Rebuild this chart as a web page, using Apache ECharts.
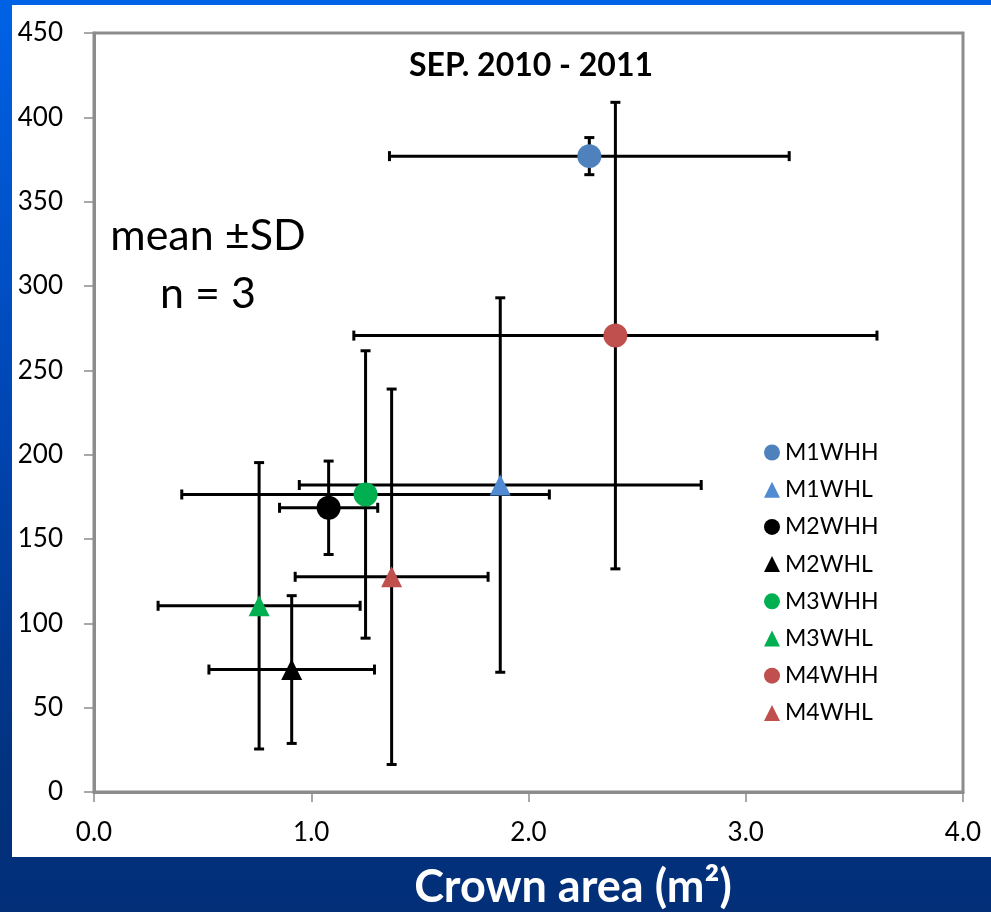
<!DOCTYPE html>
<html>
<head>
<meta charset="utf-8">
<script src="https://cdn.jsdelivr.net/npm/echarts@6/dist/echarts.min.js"></script>
<style>
html,body{margin:0;padding:0;background:#022F78;}
#chart{width:991px;height:912px;}
</style>
</head>
<body>
<div id="chart"></div>
<script>
// ---- data ----
var seriesNames = ['M1WHH','M1WHL','M2WHH','M2WHL','M3WHH','M3WHL','M4WHH','M4WHL'];
var crownArea   = [2.28, 1.87, 1.08, 0.91, 1.25, 0.76, 2.40, 1.37];
var yMean       = [377, 182, 168.5, 72.6, 176.4, 110.4, 270.6, 127.6];
var crownSD     = [0.92, 0.925, 0.226, 0.381, 0.846, 0.465, 1.204, 0.444];
var ySD         = [11, 111, 27.7, 43.8, 85.2, 84.9, 138.3, 111.3];
var xTicks      = [0, 1, 2, 3, 4];
var yTicks      = [0, 50, 100, 150, 200, 250, 300, 350, 400, 450];
var symbols     = ['circle','triangle','circle','triangle','circle','triangle','circle','triangle'];
var colors      = ['#4F81BD','#4F8AD2','#000000','#000000','#00B050','#00B050','#C0504D','#C0504D'];
var chartTitle  = 'SEP. 2010 - 2011';
var noteText    = 'mean ±SD\nn = 3';
var xAxisTitle  = 'Crown area (m²)';

var FONT = 'Lato, "Open Sans", sans-serif';
var chart = echarts.init(document.getElementById('chart'));

var scatterSeries = seriesNames.map(function (n, i) {
  return {
    name: n,
    type: 'scatter',
    symbol: symbols[i],
    symbolSize: symbols[i] === 'circle' ? 24 : [21, 21],
    itemStyle: { color: colors[i], opacity: 1 },
    z: 5,
    data: [[crownArea[i], yMean[i]]]
  };
});

var errData = seriesNames.map(function (n, i) {
  return [crownArea[i], yMean[i], crownSD[i], ySD[i]];
});

function renderErr(params, api) {
  var x = api.value(0), y = api.value(1), sx = api.value(2), sy = api.value(3);
  var c = api.coord([x, y]);
  var l = api.coord([x - sx, y]);
  var r = api.coord([x + sx, y]);
  var t = api.coord([x, y + sy]);
  var b = api.coord([x, y - sy]);
  var cap = 5;
  var st = { stroke: '#000', lineWidth: 3, lineCap: 'butt' };
  function ln(x1, y1, x2, y2) { return { type: 'line', shape: { x1: x1, y1: y1, x2: x2, y2: y2 }, style: st }; }
  return {
    type: 'group',
    children: [
      ln(l[0], c[1], r[0], c[1]),
      ln(l[0], c[1] - cap, l[0], c[1] + cap),
      ln(r[0], c[1] - cap, r[0], c[1] + cap),
      ln(c[0], t[1], c[0], b[1]),
      ln(c[0] - cap, t[1], c[0] + cap, t[1]),
      ln(c[0] - cap, b[1], c[0] + cap, b[1])
    ]
  };
}

var option = {
  animation: false,
  backgroundColor: {
    type: 'linear', x: 0, y: 0, x2: 0, y2: 1,
    colorStops: [
      { offset: 0, color: '#0062E6' },
      { offset: 0.45, color: '#0046B4' },
      { offset: 0.85, color: '#02327E' },
      { offset: 1, color: '#022F78' }
    ]
  },
  graphic: [
    { type: 'rect', z: -100, shape: { x: 12, y: 5, width: 979, height: 852 }, style: { fill: '#ffffff' } },
    { type: 'text', z: 100, x: 531, y: 66,
      style: { text: chartTitle, font: 'bold 32px ' + FONT, fill: '#000', textAlign: 'center', textVerticalAlign: 'middle' } },
    { type: 'text', z: 100, x: 208, y: 265,
      style: { text: noteText, font: '43px ' + FONT, fill: '#000', textAlign: 'center', textVerticalAlign: 'middle', lineHeight: 58 } },
    { type: 'text', z: 100, x: 573, y: 887,
      style: { text: xAxisTitle, font: 'bold 45px ' + FONT, fill: '#ffffff', textAlign: 'center', textVerticalAlign: 'middle' } }
  ],
  grid: {
    left: 94, right: 28, top: 33, bottom: 120,
    show: true, borderColor: '#8C8C8C', borderWidth: 3, backgroundColor: 'transparent'
  },
  legend: {
    orient: 'vertical', left: 764, top: 441, padding: 0,
    itemWidth: 16, itemHeight: 16, itemGap: 14.2,
    data: seriesNames,
    textStyle: { fontFamily: FONT, fontSize: 23, color: '#000', lineHeight: 20 }
  },
  xAxis: {
    type: 'value', min: xTicks[0], max: xTicks[xTicks.length - 1], interval: 1,
    axisLine: { show: true, lineStyle: { color: '#8C8C8C', width: 3 } },
    axisTick: { show: true, inside: false, length: 10, lineStyle: { color: '#8C8C8C', width: 1.5 } },
    axisLabel: { margin: 28, fontFamily: FONT, fontSize: 26, color: '#000', formatter: function (v) { return v.toFixed(1); } },
    splitLine: { show: false }
  },
  yAxis: {
    type: 'value', min: yTicks[0], max: yTicks[yTicks.length - 1], interval: 50,
    axisLine: { show: true, lineStyle: { color: '#8C8C8C', width: 3 } },
    axisTick: { show: true, inside: false, length: 10, lineStyle: { color: '#8C8C8C', width: 1.5 } },
    axisLabel: { margin: 31, fontFamily: FONT, fontSize: 26, color: '#000' },
    splitLine: { show: false }
  },
  series: [{
    type: 'custom',
    name: 'errorbars',
    renderItem: renderErr,
    z: 2,
    silent: true,
    data: errData
  }].concat(scatterSeries)
};
chart.setOption(option);
</script>
</body>
</html>
